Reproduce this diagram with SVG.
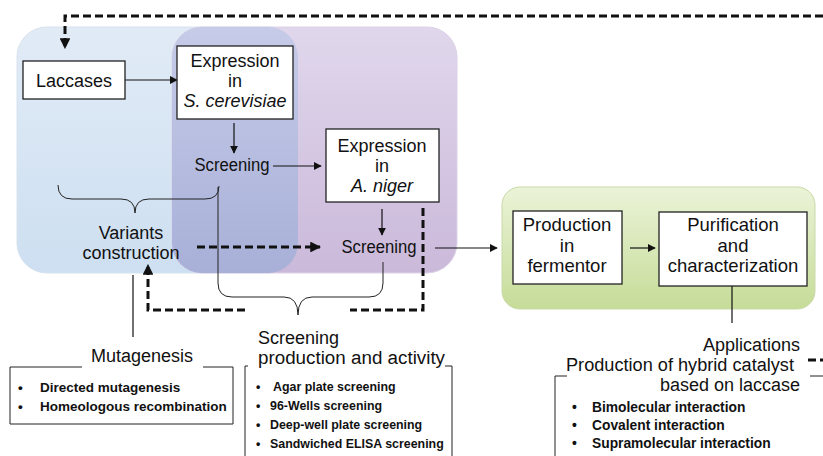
<svg xmlns="http://www.w3.org/2000/svg" width="823" height="456" viewBox="0 0 823 456">
<style>
text{font-family:"Liberation Sans",Arial,sans-serif;fill:#111}
.t{font-size:18px}
.g{font-size:18.5px}
.m{text-anchor:middle}
.e{text-anchor:end}
.b{font-size:13.5px;font-weight:700}
.bs{font-size:12.4px;font-weight:700}
.ba{font-size:13.8px;font-weight:700}
.box{fill:#fff;stroke:#222;stroke-width:1.3}
.ln{fill:none;stroke:#111;stroke-width:1.2}
.ds{fill:none;stroke:#111;stroke-width:3;stroke-dasharray:8 4}
.br{fill:none;stroke:#222;stroke-width:1}
</style>
<defs>
<linearGradient id="gb" x1="0" y1="0" x2="0" y2="1"><stop offset="0" stop-color="#e1ebf6"/><stop offset="1" stop-color="#cddff1"/></linearGradient>
<linearGradient id="gp" x1="0" y1="0" x2="0" y2="1"><stop offset="0" stop-color="#e0d7ec"/><stop offset="1" stop-color="#cbb9da"/></linearGradient>
<linearGradient id="go" x1="0" y1="0" x2="0" y2="1"><stop offset="0" stop-color="#c6cbe8"/><stop offset="1" stop-color="#a8b0d8"/></linearGradient>
<linearGradient id="gg" x1="0" y1="0" x2="0" y2="1"><stop offset="0" stop-color="#ebf3d8"/><stop offset="1" stop-color="#c6dc98"/></linearGradient>
<clipPath id="cp"><rect x="172" y="27" width="285" height="246" rx="30"/></clipPath>
<marker id="a" viewBox="0 0 10 10" refX="9" refY="5" markerWidth="8" markerHeight="8" markerUnits="userSpaceOnUse" orient="auto"><path d="M0,0L10,5L0,10z" fill="#111"/></marker>
<marker id="ad" viewBox="0 0 10 10" refX="9" refY="5" markerWidth="3.6" markerHeight="3.6" orient="auto"><path d="M0,0L10,5L0,10z" fill="#111"/></marker>
</defs>
<g id="regions">
<rect x="17" y="27" width="281" height="246" rx="30" fill="url(#gb)" stroke="#d6e2ee" stroke-width="1"/>
<rect x="172" y="27" width="285" height="246" rx="30" fill="url(#gp)" stroke="#dcd2e6" stroke-width="1"/>
<rect x="17" y="27" width="281" height="246" rx="30" fill="url(#go)" clip-path="url(#cp)"/>
<rect x="502" y="187" width="313" height="122" rx="18" fill="url(#gg)" stroke="#c9d9a8" stroke-width="1"/>
</g>
<g id="connectors">
<line class="ln" x1="125" y1="80" x2="177" y2="80" marker-end="url(#a)"/>
<line class="ln" x1="234" y1="123" x2="234" y2="153" marker-end="url(#a)"/>
<line class="ln" x1="273" y1="166" x2="321" y2="166" marker-end="url(#a)"/>
<line class="ln" x1="382" y1="209" x2="382" y2="235" marker-end="url(#a)"/>
<line class="ln" x1="435" y1="248" x2="497" y2="248" marker-end="url(#a)"/>
<line class="ln" x1="630" y1="248" x2="655" y2="248" marker-end="url(#a)"/>
<line class="ln" x1="732" y1="286" x2="732" y2="323"/>
<line class="ln" x1="133" y1="275" x2="133" y2="337"/>
<path class="ds" d="M823,16H65V48" marker-end="url(#ad)"/>
<line class="ds" x1="197" y1="247" x2="320" y2="247" marker-end="url(#ad)"/>
<path class="ds" d="M423,208V310H350"/>
<path class="ds" d="M245,310H148V265" marker-end="url(#ad)"/>
<line class="ds" x1="808" y1="360" x2="823" y2="360"/>
<path class="br" d="M58,185Q58,199 72,199H121Q135,199 135,213Q135,199 149,199H205Q219,199 219,186"/>
<path class="br" d="M218,187V283Q218,297 232,297H284Q298,297 298,315Q298,297 312,297H369Q383,297 383,283V262"/>
</g>
<g id="laccases">
<rect class="box" x="23" y="61" width="102" height="38"/>
<text class="t m" x="74" y="86.5">Laccases</text>
</g>
<g id="expr-sc">
<rect class="box" x="177" y="46" width="116" height="73"/>
<text class="t m" x="235" y="67">Expression</text>
<text class="t m" x="235" y="87">in</text>
<text class="t m" x="235" y="107" font-style="italic">S. cerevisiae</text>
</g>
<g id="screening-sc"><text class="t m" x="232" y="171" textLength="75" lengthAdjust="spacingAndGlyphs">Screening</text></g>
<g id="expr-an">
<rect class="box" x="326" y="129" width="113" height="73"/>
<text class="t m" x="382" y="151.5">Expression</text>
<text class="t m" x="382" y="171.5">in</text>
<text class="t m" x="382" y="191.5" font-style="italic">A. niger</text>
</g>
<g id="screening-an"><text class="t m" x="379" y="253" textLength="75" lengthAdjust="spacingAndGlyphs">Screening</text></g>
<g id="variants">
<text class="t m" x="131" y="238.5">Variants</text>
<text class="t m" x="131" y="258.5">construction</text>
</g>
<g id="production">
<rect class="box" x="513" y="211" width="109" height="73"/>
<text class="g m" x="567" y="231">Production</text>
<text class="g m" x="567" y="251.7">in</text>
<text class="g m" x="567" y="272.4">fermentor</text>
</g>
<g id="purification">
<rect class="box" x="659" y="212" width="148" height="74"/>
<text class="g m" x="733" y="231">Purification</text>
<text class="g m" x="733" y="251.7">and</text>
<text class="g m" x="733" y="272.4">characterization</text>
</g>
<g id="mutagenesis">
<path class="br" d="M82,367H10V424H233V367H203"/>
<text class="t m" x="142" y="362">Mutagenesis</text>
<text class="b" x="18" y="392">•</text><text class="b" x="40" y="392">Directed mutagenesis</text>
<text class="b" x="18" y="411">•</text><text class="b" x="40" y="411">Homeologous recombination</text>
</g>
<g id="screening-box">
<path class="br" d="M248,366H245V456M445,366H452V456"/>
<text class="t" x="258" y="344">Screening</text>
<text class="t" x="258" y="364" textLength="187" lengthAdjust="spacingAndGlyphs">production and activity</text>
<text class="bs" x="256" y="391">•</text><text class="bs" x="273" y="391">Agar plate screening</text>
<text class="bs" x="256" y="410">•</text><text class="bs" x="270" y="410">96-Wells screening</text>
<text class="bs" x="256" y="429">•</text><text class="bs" x="270" y="429">Deep-well plate screening</text>
<text class="bs" x="256" y="448">•</text><text class="bs" x="270" y="448">Sandwiched ELISA screening</text>
</g>
<g id="applications">
<path class="br" d="M567,376H555V456M810,376H823"/>
<text class="t e" x="800" y="350.5">Applications</text>
<text class="t e" x="794" y="370.5" textLength="228" lengthAdjust="spacingAndGlyphs">Production of hybrid catalyst</text>
<text class="t e" x="800" y="390.5">based on laccase</text>
<text class="ba" x="572" y="412">•</text><text class="ba" x="592" y="412">Bimolecular interaction</text>
<text class="ba" x="572" y="430">•</text><text class="ba" x="592" y="430">Covalent interaction</text>
<text class="ba" x="572" y="448">•</text><text class="ba" x="592" y="448">Supramolecular interaction</text>
</g>
</svg>
